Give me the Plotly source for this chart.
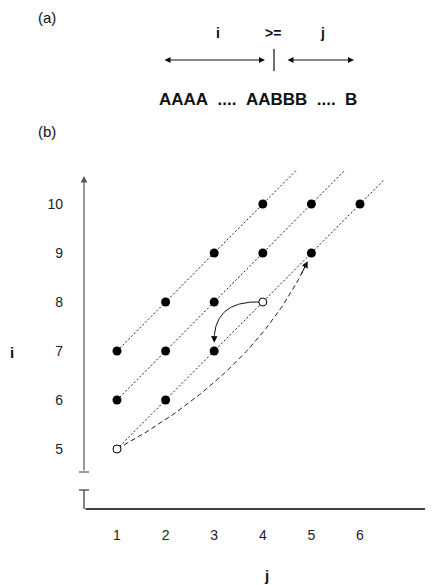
import numpy as np
import plotly.graph_objects as go

# ---------------- data ----------------
x_ticks = [1, 2, 3, 4, 5, 6]          # j
y_ticks = [5, 6, 7, 8, 9, 10]         # i
filled_j = [4, 5, 6, 3, 4, 5, 2, 3, 1, 2, 3, 1, 2]
filled_i = [10, 10, 10, 9, 9, 9, 8, 8, 7, 7, 7, 6, 6]
open_j = [1, 4]
open_i = [5, 8]
diag_offset = [6, 5, 4]               # lines i - j = offset
diag_start_j = [1, 1, 1]
diag_end_j = [4.75, 5.7, 6.5]
# bezier curves (start, control, end) in (j, i)
dash_curve = [(1, 5), (3.95, 6.6), (5, 9)]
solid_curve = [(4, 8), (2.97, 8.05), (3, 7.17)]

OFF = 8                      # page body margin
W, H = 433 - OFF, 585 - OFF
L, T = 84 - OFF, 170 - OFF
R = 0
B = H - (509 - OFF)
PW, PH = W - L - R, H - T - B
FONT = "Liberation Sans, Arial, Helvetica, sans-serif"


def pxx(x):   # reference-image pixel -> paper
    return (x - OFF - L) / PW


def pxy(y):
    return (H - B - (y - OFF)) / PH


def bez(p, t):
    t = np.asarray(t)
    (x0, y0), (x1, y1), (x2, y2) = p
    x = (1 - t) ** 2 * x0 + 2 * (1 - t) * t * x1 + t ** 2 * x2
    y = (1 - t) ** 2 * y0 + 2 * (1 - t) * t * y1 + t ** 2 * y2
    return x, y


fig = go.Figure()

# diagonal dotted lines
for off, s, e in zip(diag_offset, diag_start_j, diag_end_j):
    fig.add_trace(go.Scatter(x=[s, e], y=[s + off, e + off], mode="lines",
                             line=dict(color="#222", width=1, dash="2px,2px"),
                             hoverinfo="skip", showlegend=False))

# dashed curve
tt = np.linspace(0, 0.95, 60)
cx, cy = bez(dash_curve, tt)
fig.add_trace(go.Scatter(x=cx, y=cy, mode="lines",
                         line=dict(color="#222", width=1, dash="5px,3px"),
                         hoverinfo="skip", showlegend=False))
# solid curve
tt2 = np.linspace(0, 0.93, 60)
sx, sy = bez(solid_curve, tt2)
fig.add_trace(go.Scatter(x=sx, y=sy, mode="lines",
                         line=dict(color="#111", width=1),
                         hoverinfo="skip", showlegend=False))

# points
fig.add_trace(go.Scatter(x=filled_j, y=filled_i, mode="markers",
                         marker=dict(color="black", size=9),
                         showlegend=False))
fig.add_trace(go.Scatter(x=open_j, y=open_i, mode="markers",
                         marker=dict(color="white", size=8,
                                     line=dict(color="black", width=1)),
                         showlegend=False))

annotations = []
shapes = []


def label(text, x, y, size=15, bold=False):
    annotations.append(dict(x=pxx(x), y=pxy(y), xref="paper", yref="paper",
                            text=("<b>%s</b>" % text) if bold else text,
                            showarrow=False, xanchor="center", yanchor="middle",
                            font=dict(size=size, color="#111", family=FONT)))


# curve arrowheads
for curve, th, tl in [(dash_curve, 0.965, 0.9), (solid_curve, 1.0, 0.92)]:
    hx, hy = bez(curve, th)
    tx, ty = bez(curve, tl)
    annotations.append(dict(x=float(hx), y=float(hy), ax=float(tx), ay=float(ty),
                            xref="x", yref="y", axref="x", ayref="y", text="",
                            showarrow=True, arrowhead=2, arrowsize=1.3,
                            arrowwidth=1, arrowcolor="#111"))

# y axis (broken) with arrow
annotations.append(dict(x=0, y=pxy(176), xref="paper", yref="paper", text="",
                        showarrow=True, ax=0, ay=472 - 176, axref="pixel", ayref="pixel",
                        arrowhead=2, arrowsize=1.1, arrowwidth=1.2, arrowcolor="#555"))
shapes.append(dict(type="line", xref="paper", yref="paper", x0=pxx(79), x1=pxx(89),
                   y0=pxy(472), y1=pxy(472), line=dict(color="#555", width=1.2)))
shapes.append(dict(type="line", xref="paper", yref="paper", x0=0, x1=0,
                   y0=pxy(490), y1=0, line=dict(color="#333", width=1.2)))
shapes.append(dict(type="line", xref="paper", yref="paper", x0=pxx(79), x1=pxx(89),
                   y0=pxy(490), y1=pxy(490), line=dict(color="#333", width=1.2)))
# x axis with arrow
annotations.append(dict(x=pxx(432), y=0, xref="paper", yref="paper", text="",
                        showarrow=True, ax=-(432 - 84), ay=0, axref="pixel", ayref="pixel",
                        arrowhead=2, arrowsize=0.9, arrowwidth=1.3, arrowcolor="black"))

# axis titles
label("i", 12, 352, 15, True)
label("j", 266, 575, 15, True)

# panel labels
label("(a)", 47, 17, 15)
label("(b)", 47, 131, 15)

# part (a) diagram
label("i", 218, 33, 14, True)
label(">=", 273, 33, 14, True)
label("j", 322, 33, 14, True)
for x0, x1 in [(163, 265), (286, 354)]:
    annotations.append(dict(x=pxx(x1), y=pxy(60), xref="paper", yref="paper", text="",
                            showarrow=True, ax=-(x1 - x0), ay=0, axref="pixel", ayref="pixel",
                            arrowhead=2, startarrowhead=2, arrowside="end+start",
                            arrowsize=1.2, startarrowsize=1.2, arrowwidth=1,
                            arrowcolor="#111"))
shapes.append(dict(type="line", xref="paper", yref="paper", x0=pxx(274), x1=pxx(274),
                   y0=pxy(49), y1=pxy(71), line=dict(color="#111", width=1.2)))
label("AAAA&nbsp;&nbsp;....&nbsp;&nbsp;AABBB&nbsp;&nbsp;....&nbsp;&nbsp;B", 257.5, 99, 17, True)

XSCALE = 48.6   # px per unit of j
YSCALE = 49.0   # px per unit of i
fig.update_layout(
    width=W, height=H, autosize=False,
    margin=dict(l=L, r=R, t=T, b=B, pad=0),
    paper_bgcolor="white", plot_bgcolor="white",
    showlegend=False,
    font=dict(family=FONT, color="#222"),
    xaxis=dict(range=[1 - (117 - 84) / XSCALE, 1 + (433 - 117) / XSCALE], tickvals=x_ticks,
               showgrid=False, zeroline=False, showline=False, ticks="",
               ticklabelstandoff=16, tickfont=dict(size=14, color="#222", family=FONT),
               fixedrange=True),
    yaxis=dict(range=[5 - (509 - 449) / YSCALE, 5 + (449 - 170) / YSCALE], tickvals=y_ticks,
               showgrid=False, zeroline=False, showline=False, ticks="",
               ticklabelstandoff=20, tickfont=dict(size=14, color="#222", family=FONT),
               fixedrange=True),
    annotations=annotations,
    shapes=shapes,
)

fig.write_html("out.html")
